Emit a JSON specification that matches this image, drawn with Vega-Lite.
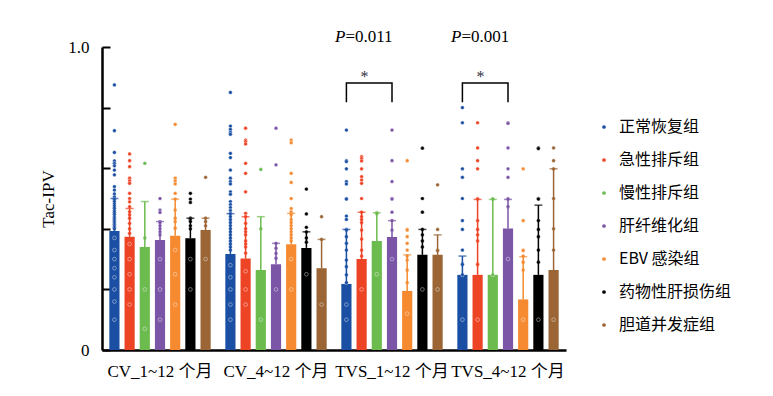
{
"$schema":"https://vega.github.io/schema/vega-lite/v6.json",
"width":464,"height":303,
"autosize":{"type":"none"},
"padding":{"left":102,"top":47,"right":207,"bottom":46},
"background":"white",
"config":{"view":{"stroke":null},"font":"Liberation Serif","axis":{"grid":false}},
"datasets":{
"bars":[
{"g":"CV_1~12 个月","c":"正常恢复组","mean":0.393,"up":0.50},
{"g":"CV_1~12 个月","c":"急性排斥组","mean":0.374,"up":0.467},
{"g":"CV_1~12 个月","c":"慢性排斥组","mean":0.340,"up":0.49},
{"g":"CV_1~12 个月","c":"肝纤维化组","mean":0.363,"up":0.424},
{"g":"CV_1~12 个月","c":"EBV 感染组","mean":0.377,"up":0.498},
{"g":"CV_1~12 个月","c":"药物性肝损伤组","mean":0.369,"up":0.435},
{"g":"CV_1~12 个月","c":"胆道并发症组","mean":0.396,"up":0.435},
{"g":"CV_4~12 个月","c":"正常恢复组","mean":0.317,"up":0.45},
{"g":"CV_4~12 个月","c":"急性排斥组","mean":0.302,"up":0.44},
{"g":"CV_4~12 个月","c":"慢性排斥组","mean":0.264,"up":0.44},
{"g":"CV_4~12 个月","c":"肝纤维化组","mean":0.283,"up":0.352},
{"g":"CV_4~12 个月","c":"EBV 感染组","mean":0.349,"up":0.451},
{"g":"CV_4~12 个月","c":"药物性肝损伤组","mean":0.337,"up":0.39},
{"g":"CV_4~12 个月","c":"胆道并发症组","mean":0.270,"up":0.365},
{"g":"TVS_1~12 个月","c":"正常恢复组","mean":0.218,"up":0.398},
{"g":"TVS_1~12 个月","c":"急性排斥组","mean":0.300,"up":0.455},
{"g":"TVS_1~12 个月","c":"慢性排斥组","mean":0.360,"up":0.453},
{"g":"TVS_1~12 个月","c":"肝纤维化组","mean":0.373,"up":0.427},
{"g":"TVS_1~12 个月","c":"EBV 感染组","mean":0.195,"up":0.314},
{"g":"TVS_1~12 个月","c":"药物性肝损伤组","mean":0.314,"up":0.398},
{"g":"TVS_1~12 个月","c":"胆道并发症组","mean":0.314,"up":0.38},
{"g":"TVS_4~12 个月","c":"正常恢复组","mean":0.248,"up":0.31},
{"g":"TVS_4~12 个月","c":"急性排斥组","mean":0.248,"up":0.497},
{"g":"TVS_4~12 个月","c":"慢性排斥组","mean":0.248,"up":0.497},
{"g":"TVS_4~12 个月","c":"肝纤维化组","mean":0.401,"up":0.497},
{"g":"TVS_4~12 个月","c":"EBV 感染组","mean":0.167,"up":0.308},
{"g":"TVS_4~12 个月","c":"药物性肝损伤组","mean":0.248,"up":0.478},
{"g":"TVS_4~12 个月","c":"胆道并发症组","mean":0.264,"up":0.598}
],
"pts":[
{"g":"CV_1~12 个月","c":"正常恢复组","v":0.875},{"g":"CV_1~12 个月","c":"正常恢复组","v":0.724},{"g":"CV_1~12 个月","c":"正常恢复组","v":0.652},{"g":"CV_1~12 个月","c":"正常恢复组","v":0.624},{"g":"CV_1~12 个月","c":"正常恢复组","v":0.616},{"g":"CV_1~12 个月","c":"正常恢复组","v":0.608},{"g":"CV_1~12 个月","c":"正常恢复组","v":0.594},{"g":"CV_1~12 个月","c":"正常恢复组","v":0.578},{"g":"CV_1~12 个月","c":"正常恢复组","v":0.539},{"g":"CV_1~12 个月","c":"正常恢复组","v":0.528},{"g":"CV_1~12 个月","c":"正常恢复组","v":0.515},{"g":"CV_1~12 个月","c":"正常恢复组","v":0.505},{"g":"CV_1~12 个月","c":"正常恢复组","v":0.497},{"g":"CV_1~12 个月","c":"正常恢复组","v":0.49},{"g":"CV_1~12 个月","c":"正常恢复组","v":0.482},{"g":"CV_1~12 个月","c":"正常恢复组","v":0.475},{"g":"CV_1~12 个月","c":"正常恢复组","v":0.468},{"g":"CV_1~12 个月","c":"正常恢复组","v":0.46},{"g":"CV_1~12 个月","c":"正常恢复组","v":0.455},{"g":"CV_1~12 个月","c":"正常恢复组","v":0.448},{"g":"CV_1~12 个月","c":"正常恢复组","v":0.44},{"g":"CV_1~12 个月","c":"正常恢复组","v":0.435},{"g":"CV_1~12 个月","c":"正常恢复组","v":0.43},{"g":"CV_1~12 个月","c":"正常恢复组","v":0.425},{"g":"CV_1~12 个月","c":"正常恢复组","v":0.42},{"g":"CV_1~12 个月","c":"正常恢复组","v":0.415},{"g":"CV_1~12 个月","c":"正常恢复组","v":0.41},{"g":"CV_1~12 个月","c":"正常恢复组","v":0.405},{"g":"CV_1~12 个月","c":"正常恢复组","v":0.40},{"g":"CV_1~12 个月","c":"正常恢复组","v":0.37},{"g":"CV_1~12 个月","c":"正常恢复组","v":0.33},{"g":"CV_1~12 个月","c":"正常恢复组","v":0.30},{"g":"CV_1~12 个月","c":"正常恢复组","v":0.27},{"g":"CV_1~12 个月","c":"正常恢复组","v":0.24},{"g":"CV_1~12 个月","c":"正常恢复组","v":0.20},{"g":"CV_1~12 个月","c":"正常恢复组","v":0.16},{"g":"CV_1~12 个月","c":"正常恢复组","v":0.10},
{"g":"CV_1~12 个月","c":"急性排斥组","v":0.647},{"g":"CV_1~12 个月","c":"急性排斥组","v":0.625},{"g":"CV_1~12 个月","c":"急性排斥组","v":0.605},{"g":"CV_1~12 个月","c":"急性排斥组","v":0.567},{"g":"CV_1~12 个月","c":"急性排斥组","v":0.558},{"g":"CV_1~12 个月","c":"急性排斥组","v":0.55},{"g":"CV_1~12 个月","c":"急性排斥组","v":0.517},{"g":"CV_1~12 个月","c":"急性排斥组","v":0.50},{"g":"CV_1~12 个月","c":"急性排斥组","v":0.489},{"g":"CV_1~12 个月","c":"急性排斥组","v":0.473},{"g":"CV_1~12 个月","c":"急性排斥组","v":0.456},{"g":"CV_1~12 个月","c":"急性排斥组","v":0.446},{"g":"CV_1~12 个月","c":"急性排斥组","v":0.435},{"g":"CV_1~12 个月","c":"急性排斥组","v":0.418},{"g":"CV_1~12 个月","c":"急性排斥组","v":0.40},{"g":"CV_1~12 个月","c":"急性排斥组","v":0.385},{"g":"CV_1~12 个月","c":"急性排斥组","v":0.35},{"g":"CV_1~12 个月","c":"急性排斥组","v":0.30},{"g":"CV_1~12 个月","c":"急性排斥组","v":0.25},{"g":"CV_1~12 个月","c":"急性排斥组","v":0.20},{"g":"CV_1~12 个月","c":"急性排斥组","v":0.15},
{"g":"CV_1~12 个月","c":"慢性排斥组","v":0.616},{"g":"CV_1~12 个月","c":"慢性排斥组","v":0.37},{"g":"CV_1~12 个月","c":"慢性排斥组","v":0.20},{"g":"CV_1~12 个月","c":"慢性排斥组","v":0.07},
{"g":"CV_1~12 个月","c":"肝纤维化组","v":0.50},{"g":"CV_1~12 个月","c":"肝纤维化组","v":0.462},{"g":"CV_1~12 个月","c":"肝纤维化组","v":0.454},{"g":"CV_1~12 个月","c":"肝纤维化组","v":0.424},{"g":"CV_1~12 个月","c":"肝纤维化组","v":0.42},{"g":"CV_1~12 个月","c":"肝纤维化组","v":0.41},{"g":"CV_1~12 个月","c":"肝纤维化组","v":0.40},{"g":"CV_1~12 个月","c":"肝纤维化组","v":0.39},{"g":"CV_1~12 个月","c":"肝纤维化组","v":0.38},{"g":"CV_1~12 个月","c":"肝纤维化组","v":0.30},{"g":"CV_1~12 个月","c":"肝纤维化组","v":0.20},{"g":"CV_1~12 个月","c":"肝纤维化组","v":0.10},
{"g":"CV_1~12 个月","c":"EBV 感染组","v":0.745},{"g":"CV_1~12 个月","c":"EBV 感染组","v":0.567},{"g":"CV_1~12 个月","c":"EBV 感染组","v":0.558},{"g":"CV_1~12 个月","c":"EBV 感染组","v":0.548},{"g":"CV_1~12 个月","c":"EBV 感染组","v":0.517},{"g":"CV_1~12 个月","c":"EBV 感染组","v":0.498},{"g":"CV_1~12 个月","c":"EBV 感染组","v":0.462},{"g":"CV_1~12 个月","c":"EBV 感染组","v":0.435},{"g":"CV_1~12 个月","c":"EBV 感染组","v":0.424},{"g":"CV_1~12 个月","c":"EBV 感染组","v":0.402},{"g":"CV_1~12 个月","c":"EBV 感染组","v":0.33},{"g":"CV_1~12 个月","c":"EBV 感染组","v":0.25},{"g":"CV_1~12 个月","c":"EBV 感染组","v":0.15},
{"g":"CV_1~12 个月","c":"药物性肝损伤组","v":0.517},{"g":"CV_1~12 个月","c":"药物性肝损伤组","v":0.498},{"g":"CV_1~12 个月","c":"药物性肝损伤组","v":0.487},{"g":"CV_1~12 个月","c":"药物性肝损伤组","v":0.435},{"g":"CV_1~12 个月","c":"药物性肝损伤组","v":0.43},{"g":"CV_1~12 个月","c":"药物性肝损伤组","v":0.424},{"g":"CV_1~12 个月","c":"药物性肝损伤组","v":0.41},{"g":"CV_1~12 个月","c":"药物性肝损伤组","v":0.40},{"g":"CV_1~12 个月","c":"药物性肝损伤组","v":0.30},{"g":"CV_1~12 个月","c":"药物性肝损伤组","v":0.20},
{"g":"CV_1~12 个月","c":"胆道并发症组","v":0.57},{"g":"CV_1~12 个月","c":"胆道并发症组","v":0.435},{"g":"CV_1~12 个月","c":"胆道并发症组","v":0.424},{"g":"CV_1~12 个月","c":"胆道并发症组","v":0.41},{"g":"CV_1~12 个月","c":"胆道并发症组","v":0.30},
{"g":"CV_4~12 个月","c":"正常恢复组","v":0.85},{"g":"CV_4~12 个月","c":"正常恢复组","v":0.739},{"g":"CV_4~12 个月","c":"正常恢复组","v":0.728},{"g":"CV_4~12 个月","c":"正常恢复组","v":0.718},{"g":"CV_4~12 个月","c":"正常恢复组","v":0.712},{"g":"CV_4~12 个月","c":"正常恢复组","v":0.649},{"g":"CV_4~12 个月","c":"正常恢复组","v":0.635},{"g":"CV_4~12 个月","c":"正常恢复组","v":0.594},{"g":"CV_4~12 个月","c":"正常恢复组","v":0.567},{"g":"CV_4~12 个月","c":"正常恢复组","v":0.556},{"g":"CV_4~12 个月","c":"正常恢复组","v":0.548},{"g":"CV_4~12 个月","c":"正常恢复组","v":0.522},{"g":"CV_4~12 个月","c":"正常恢复组","v":0.514},{"g":"CV_4~12 个月","c":"正常恢复组","v":0.49},{"g":"CV_4~12 个月","c":"正常恢复组","v":0.48},{"g":"CV_4~12 个月","c":"正常恢复组","v":0.47},{"g":"CV_4~12 个月","c":"正常恢复组","v":0.46},{"g":"CV_4~12 个月","c":"正常恢复组","v":0.45},{"g":"CV_4~12 个月","c":"正常恢复组","v":0.44},{"g":"CV_4~12 个月","c":"正常恢复组","v":0.43},{"g":"CV_4~12 个月","c":"正常恢复组","v":0.42},{"g":"CV_4~12 个月","c":"正常恢复组","v":0.41},{"g":"CV_4~12 个月","c":"正常恢复组","v":0.40},{"g":"CV_4~12 个月","c":"正常恢复组","v":0.39},{"g":"CV_4~12 个月","c":"正常恢复组","v":0.38},{"g":"CV_4~12 个月","c":"正常恢复组","v":0.37},{"g":"CV_4~12 个月","c":"正常恢复组","v":0.36},{"g":"CV_4~12 个月","c":"正常恢复组","v":0.35},{"g":"CV_4~12 个月","c":"正常恢复组","v":0.34},{"g":"CV_4~12 个月","c":"正常恢复组","v":0.33},{"g":"CV_4~12 个月","c":"正常恢复组","v":0.28},{"g":"CV_4~12 个月","c":"正常恢复组","v":0.24},{"g":"CV_4~12 个月","c":"正常恢复组","v":0.20},{"g":"CV_4~12 个月","c":"正常恢复组","v":0.15},{"g":"CV_4~12 个月","c":"正常恢复组","v":0.10},
{"g":"CV_4~12 个月","c":"急性排斥组","v":0.732},{"g":"CV_4~12 个月","c":"急性排斥组","v":0.693},{"g":"CV_4~12 个月","c":"急性排斥组","v":0.688},{"g":"CV_4~12 个月","c":"急性排斥组","v":0.68},{"g":"CV_4~12 个月","c":"急性排斥组","v":0.616},{"g":"CV_4~12 个月","c":"急性排斥组","v":0.583},{"g":"CV_4~12 个月","c":"急性排斥组","v":0.522},{"g":"CV_4~12 个月","c":"急性排斥组","v":0.451},{"g":"CV_4~12 个月","c":"急性排斥组","v":0.44},{"g":"CV_4~12 个月","c":"急性排斥组","v":0.418},{"g":"CV_4~12 个月","c":"急性排斥组","v":0.40},{"g":"CV_4~12 个月","c":"急性排斥组","v":0.39},{"g":"CV_4~12 个月","c":"急性排斥组","v":0.38},{"g":"CV_4~12 个月","c":"急性排斥组","v":0.36},{"g":"CV_4~12 个月","c":"急性排斥组","v":0.35},{"g":"CV_4~12 个月","c":"急性排斥组","v":0.34},{"g":"CV_4~12 个月","c":"急性排斥组","v":0.32},{"g":"CV_4~12 个月","c":"急性排斥组","v":0.26},{"g":"CV_4~12 个月","c":"急性排斥组","v":0.20},{"g":"CV_4~12 个月","c":"急性排斥组","v":0.15},
{"g":"CV_4~12 个月","c":"慢性排斥组","v":0.596},{"g":"CV_4~12 个月","c":"慢性排斥组","v":0.40},{"g":"CV_4~12 个月","c":"慢性排斥组","v":0.10},
{"g":"CV_4~12 个月","c":"肝纤维化组","v":0.732},{"g":"CV_4~12 个月","c":"肝纤维化组","v":0.611},{"g":"CV_4~12 个月","c":"肝纤维化组","v":0.352},{"g":"CV_4~12 个月","c":"肝纤维化组","v":0.336},{"g":"CV_4~12 个月","c":"肝纤维化组","v":0.319},{"g":"CV_4~12 个月","c":"肝纤维化组","v":0.303},{"g":"CV_4~12 个月","c":"肝纤维化组","v":0.20},
{"g":"CV_4~12 个月","c":"EBV 感染组","v":0.693},{"g":"CV_4~12 个月","c":"EBV 感染组","v":0.684},{"g":"CV_4~12 个月","c":"EBV 感染组","v":0.583},{"g":"CV_4~12 个月","c":"EBV 感染组","v":0.553},{"g":"CV_4~12 个月","c":"EBV 感染组","v":0.50},{"g":"CV_4~12 个月","c":"EBV 感染组","v":0.467},{"g":"CV_4~12 个月","c":"EBV 感染组","v":0.456},{"g":"CV_4~12 个月","c":"EBV 感染组","v":0.446},{"g":"CV_4~12 个月","c":"EBV 感染组","v":0.43},{"g":"CV_4~12 个月","c":"EBV 感染组","v":0.42},{"g":"CV_4~12 个月","c":"EBV 感染组","v":0.41},{"g":"CV_4~12 个月","c":"EBV 感染组","v":0.40},{"g":"CV_4~12 个月","c":"EBV 感染组","v":0.39},{"g":"CV_4~12 个月","c":"EBV 感染组","v":0.38},{"g":"CV_4~12 个月","c":"EBV 感染组","v":0.37},{"g":"CV_4~12 个月","c":"EBV 感染组","v":0.36},{"g":"CV_4~12 个月","c":"EBV 感染组","v":0.30},{"g":"CV_4~12 个月","c":"EBV 感染组","v":0.20},
{"g":"CV_4~12 个月","c":"药物性肝损伤组","v":0.531},{"g":"CV_4~12 个月","c":"药物性肝损伤组","v":0.449},{"g":"CV_4~12 个月","c":"药物性肝损伤组","v":0.405},{"g":"CV_4~12 个月","c":"药物性肝损伤组","v":0.39},{"g":"CV_4~12 个月","c":"药物性肝损伤组","v":0.37},{"g":"CV_4~12 个月","c":"药物性肝损伤组","v":0.356},{"g":"CV_4~12 个月","c":"药物性肝损伤组","v":0.25},
{"g":"CV_4~12 个月","c":"胆道并发症组","v":0.44},{"g":"CV_4~12 个月","c":"胆道并发症组","v":0.365},{"g":"CV_4~12 个月","c":"胆道并发症组","v":0.15},
{"g":"TVS_1~12 个月","c":"正常恢复组","v":0.726},{"g":"TVS_1~12 个月","c":"正常恢复组","v":0.625},{"g":"TVS_1~12 个月","c":"正常恢复组","v":0.622},{"g":"TVS_1~12 个月","c":"正常恢复组","v":0.598},{"g":"TVS_1~12 个月","c":"正常恢复组","v":0.556},{"g":"TVS_1~12 个月","c":"正常恢复组","v":0.548},{"g":"TVS_1~12 个月","c":"正常恢复组","v":0.50},{"g":"TVS_1~12 个月","c":"正常恢复组","v":0.498},{"g":"TVS_1~12 个月","c":"正常恢复组","v":0.442},{"g":"TVS_1~12 个月","c":"正常恢复组","v":0.431},{"g":"TVS_1~12 个月","c":"正常恢复组","v":0.398},{"g":"TVS_1~12 个月","c":"正常恢复组","v":0.396},{"g":"TVS_1~12 个月","c":"正常恢复组","v":0.374},{"g":"TVS_1~12 个月","c":"正常恢复组","v":0.352},{"g":"TVS_1~12 个月","c":"正常恢复组","v":0.33},{"g":"TVS_1~12 个月","c":"正常恢复组","v":0.297},{"g":"TVS_1~12 个月","c":"正常恢复组","v":0.275},{"g":"TVS_1~12 个月","c":"正常恢复组","v":0.248},{"g":"TVS_1~12 个月","c":"正常恢复组","v":0.222},{"g":"TVS_1~12 个月","c":"正常恢复组","v":0.15},{"g":"TVS_1~12 个月","c":"正常恢复组","v":0.10},
{"g":"TVS_1~12 个月","c":"急性排斥组","v":0.638},{"g":"TVS_1~12 个月","c":"急性排斥组","v":0.632},{"g":"TVS_1~12 个月","c":"急性排斥组","v":0.624},{"g":"TVS_1~12 个月","c":"急性排斥组","v":0.598},{"g":"TVS_1~12 个月","c":"急性排斥组","v":0.572},{"g":"TVS_1~12 个月","c":"急性排斥组","v":0.561},{"g":"TVS_1~12 个月","c":"急性排斥组","v":0.55},{"g":"TVS_1~12 个月","c":"急性排斥组","v":0.50},{"g":"TVS_1~12 个月","c":"急性排斥组","v":0.455},{"g":"TVS_1~12 个月","c":"急性排斥组","v":0.44},{"g":"TVS_1~12 个月","c":"急性排斥组","v":0.43},{"g":"TVS_1~12 个月","c":"急性排斥组","v":0.42},{"g":"TVS_1~12 个月","c":"急性排斥组","v":0.396},{"g":"TVS_1~12 个月","c":"急性排斥组","v":0.366},{"g":"TVS_1~12 个月","c":"急性排斥组","v":0.33},{"g":"TVS_1~12 个月","c":"急性排斥组","v":0.31},{"g":"TVS_1~12 个月","c":"急性排斥组","v":0.20},
{"g":"TVS_1~12 个月","c":"慢性排斥组","v":0.453},{"g":"TVS_1~12 个月","c":"慢性排斥组","v":0.45},{"g":"TVS_1~12 个月","c":"慢性排斥组","v":0.25},
{"g":"TVS_1~12 个月","c":"肝纤维化组","v":0.726},{"g":"TVS_1~12 个月","c":"肝纤维化组","v":0.625},{"g":"TVS_1~12 个月","c":"肝纤维化组","v":0.556},{"g":"TVS_1~12 个月","c":"肝纤维化组","v":0.50},{"g":"TVS_1~12 个月","c":"肝纤维化组","v":0.498},{"g":"TVS_1~12 个月","c":"肝纤维化组","v":0.455},{"g":"TVS_1~12 个月","c":"肝纤维化组","v":0.427},{"g":"TVS_1~12 个月","c":"肝纤维化组","v":0.396},{"g":"TVS_1~12 个月","c":"肝纤维化组","v":0.30},
{"g":"TVS_1~12 个月","c":"EBV 感染组","v":0.625},{"g":"TVS_1~12 个月","c":"EBV 感染组","v":0.398},{"g":"TVS_1~12 个月","c":"EBV 感染组","v":0.396},{"g":"TVS_1~12 个月","c":"EBV 感染组","v":0.374},{"g":"TVS_1~12 个月","c":"EBV 感染组","v":0.352},{"g":"TVS_1~12 个月","c":"EBV 感染组","v":0.33},{"g":"TVS_1~12 个月","c":"EBV 感染组","v":0.31},{"g":"TVS_1~12 个月","c":"EBV 感染组","v":0.297},{"g":"TVS_1~12 个月","c":"EBV 感染组","v":0.264},{"g":"TVS_1~12 个月","c":"EBV 感染组","v":0.222},{"g":"TVS_1~12 个月","c":"EBV 感染组","v":0.12},
{"g":"TVS_1~12 个月","c":"药物性肝损伤组","v":0.666},{"g":"TVS_1~12 个月","c":"药物性肝损伤组","v":0.50},{"g":"TVS_1~12 个月","c":"药物性肝损伤组","v":0.455},{"g":"TVS_1~12 个月","c":"药物性肝损伤组","v":0.398},{"g":"TVS_1~12 个月","c":"药物性肝损伤组","v":0.38},{"g":"TVS_1~12 个月","c":"药物性肝损伤组","v":0.36},{"g":"TVS_1~12 个月","c":"药物性肝损伤组","v":0.34},{"g":"TVS_1~12 个月","c":"药物性肝损伤组","v":0.20},
{"g":"TVS_1~12 个月","c":"胆道并发症组","v":0.545},{"g":"TVS_1~12 个月","c":"胆道并发症组","v":0.398},{"g":"TVS_1~12 个月","c":"胆道并发症组","v":0.33},{"g":"TVS_1~12 个月","c":"胆道并发症组","v":0.328},{"g":"TVS_1~12 个月","c":"胆道并发症组","v":0.20},
{"g":"TVS_4~12 个月","c":"正常恢复组","v":0.80},{"g":"TVS_4~12 个月","c":"正常恢复组","v":0.75},{"g":"TVS_4~12 个月","c":"正常恢复组","v":0.598},{"g":"TVS_4~12 个月","c":"正常恢复组","v":0.57},{"g":"TVS_4~12 个月","c":"正常恢复组","v":0.50},{"g":"TVS_4~12 个月","c":"正常恢复组","v":0.427},{"g":"TVS_4~12 个月","c":"正常恢复组","v":0.398},{"g":"TVS_4~12 个月","c":"正常恢复组","v":0.33},{"g":"TVS_4~12 个月","c":"正常恢复组","v":0.284},{"g":"TVS_4~12 个月","c":"正常恢复组","v":0.282},{"g":"TVS_4~12 个月","c":"正常恢复组","v":0.248},{"g":"TVS_4~12 个月","c":"正常恢复组","v":0.10},
{"g":"TVS_4~12 个月","c":"急性排斥组","v":0.75},{"g":"TVS_4~12 个月","c":"急性排斥组","v":0.667},{"g":"TVS_4~12 个月","c":"急性排斥组","v":0.625},{"g":"TVS_4~12 个月","c":"急性排斥组","v":0.598},{"g":"TVS_4~12 个月","c":"急性排斥组","v":0.50},{"g":"TVS_4~12 个月","c":"急性排斥组","v":0.498},{"g":"TVS_4~12 个月","c":"急性排斥组","v":0.427},{"g":"TVS_4~12 个月","c":"急性排斥组","v":0.398},{"g":"TVS_4~12 个月","c":"急性排斥组","v":0.38},{"g":"TVS_4~12 个月","c":"急性排斥组","v":0.36},{"g":"TVS_4~12 个月","c":"急性排斥组","v":0.284},{"g":"TVS_4~12 个月","c":"急性排斥组","v":0.282},{"g":"TVS_4~12 个月","c":"急性排斥组","v":0.10},
{"g":"TVS_4~12 个月","c":"慢性排斥组","v":0.50},{"g":"TVS_4~12 个月","c":"慢性排斥组","v":0.498},{"g":"TVS_4~12 个月","c":"慢性排斥组","v":0.248},
{"g":"TVS_4~12 个月","c":"肝纤维化组","v":0.75},{"g":"TVS_4~12 个月","c":"肝纤维化组","v":0.748},{"g":"TVS_4~12 个月","c":"肝纤维化组","v":0.667},{"g":"TVS_4~12 个月","c":"肝纤维化组","v":0.598},{"g":"TVS_4~12 个月","c":"肝纤维化组","v":0.57},{"g":"TVS_4~12 个月","c":"肝纤维化组","v":0.50},{"g":"TVS_4~12 个月","c":"肝纤维化组","v":0.498},{"g":"TVS_4~12 个月","c":"肝纤维化组","v":0.473},{"g":"TVS_4~12 个月","c":"肝纤维化组","v":0.30},
{"g":"TVS_4~12 个月","c":"EBV 感染组","v":0.598},{"g":"TVS_4~12 个月","c":"EBV 感染组","v":0.427},{"g":"TVS_4~12 个月","c":"EBV 感染组","v":0.33},{"g":"TVS_4~12 个月","c":"EBV 感染组","v":0.328},{"g":"TVS_4~12 个月","c":"EBV 感染组","v":0.31},{"g":"TVS_4~12 个月","c":"EBV 感染组","v":0.29},{"g":"TVS_4~12 个月","c":"EBV 感染组","v":0.264},{"g":"TVS_4~12 个月","c":"EBV 感染组","v":0.10},
{"g":"TVS_4~12 个月","c":"药物性肝损伤组","v":0.667},{"g":"TVS_4~12 个月","c":"药物性肝损伤组","v":0.665},{"g":"TVS_4~12 个月","c":"药物性肝损伤组","v":0.50},{"g":"TVS_4~12 个月","c":"药物性肝损伤组","v":0.498},{"g":"TVS_4~12 个月","c":"药物性肝损伤组","v":0.427},{"g":"TVS_4~12 个月","c":"药物性肝损伤组","v":0.398},{"g":"TVS_4~12 个月","c":"药物性肝损伤组","v":0.374},{"g":"TVS_4~12 个月","c":"药物性肝损伤组","v":0.33},{"g":"TVS_4~12 个月","c":"药物性肝损伤组","v":0.29},{"g":"TVS_4~12 个月","c":"药物性肝损伤组","v":0.10},
{"g":"TVS_4~12 个月","c":"胆道并发症组","v":0.667},{"g":"TVS_4~12 个月","c":"胆道并发症组","v":0.625},{"g":"TVS_4~12 个月","c":"胆道并发症组","v":0.598},{"g":"TVS_4~12 个月","c":"胆道并发症组","v":0.50},{"g":"TVS_4~12 个月","c":"胆道并发症组","v":0.40},{"g":"TVS_4~12 个月","c":"胆道并发症组","v":0.33},{"g":"TVS_4~12 个月","c":"胆道并发症组","v":0.10}
],
"brk":[
{"g":"TVS_1~12 个月","c":"正常恢复组","y":0.818,"o":1},
{"g":"TVS_1~12 个月","c":"正常恢复组","y":0.881,"o":2},
{"g":"TVS_1~12 个月","c":"肝纤维化组","y":0.881,"o":3},
{"g":"TVS_1~12 个月","c":"肝纤维化组","y":0.818,"o":4},
{"g":"TVS_4~12 个月","c":"正常恢复组","y":0.818,"o":1},
{"g":"TVS_4~12 个月","c":"正常恢复组","y":0.881,"o":2},
{"g":"TVS_4~12 个月","c":"肝纤维化组","y":0.881,"o":3},
{"g":"TVS_4~12 个月","c":"肝纤维化组","y":0.818,"o":4}
],
"ann":[
{"g":"TVS_1~12 个月","c":"正常恢复组","p":"P","val":"=0.011"},
{"g":"TVS_4~12 个月","c":"正常恢复组","p":"P","val":"=0.001"}
],
"star":[
{"g":"TVS_1~12 个月","c":"急性排斥组","s":"*"},
{"g":"TVS_4~12 个月","c":"急性排斥组","s":"*"}
]
},
"encoding":{
"x":{"field":"g","type":"nominal","sort":["CV_1~12 个月","CV_4~12 个月","TVS_1~12 个月","TVS_4~12 个月"],
 "scale":{"domain":["CV_1~12 个月","CV_4~12 个月","TVS_1~12 个月","TVS_4~12 个月"],"paddingInner":0.1,"paddingOuter":0.05},
 "axis":{"title":null,"labelAngle":0,"labelFontSize":17,"labelFont":"Liberation Serif, Noto Sans CJK SC","labelColor":"black","domainColor":"black","domainWidth":2.5,"tickColor":"black","tickSize":-5,"tickWidth":1.5,"labelPadding":18,"labelBaseline":"top"}},
"xOffset":{"field":"c","type":"nominal","sort":["正常恢复组","急性排斥组","慢性排斥组","肝纤维化组","EBV 感染组","药物性肝损伤组","胆道并发症组"],
 "scale":{"domain":["正常恢复组","急性排斥组","慢性排斥组","肝纤维化组","EBV 感染组","药物性肝损伤组","胆道并发症组"],"paddingInner":0.33,"paddingOuter":0.1}}
},
"layer":[
{"data":{"name":"bars"},"mark":{"type":"bar"},
 "encoding":{
  "y":{"field":"mean","type":"quantitative","scale":{"domain":[0,1],"nice":false},
   "axis":{"title":"Tac-IPV","titleFont":"Liberation Serif","titleFontSize":17,"titleFontWeight":"normal","titleColor":"black","titlePadding":10,
    "values":[0,0.05,0.1,0.15,0.2,0.25,0.3,0.35,0.4,0.45,0.5,0.55,0.6,0.65,0.7,0.75,0.8,0.85,0.9,0.95,1],
    "labelExpr":"datum.value == 0 ? '0' : (datum.value == 0.5 ? '0.5' : (datum.value == 1 ? '1.0' : ''))",
    "labelOverlap":false,"labelFontSize":17,"labelColor":"black","labelPadding":21,
    "tickSize":{"condition":{"test":"round(datum.value*100) % 10 == 0","value":-8},"value":-6},
    "tickWidth":{"condition":{"test":"round(datum.value*100) % 10 == 0","value":2},"value":1.2},
    "tickColor":"black","domainColor":"black","domainWidth":2.5}},
  "color":{"field":"c","type":"nominal","sort":["正常恢复组","急性排斥组","慢性排斥组","肝纤维化组","EBV 感染组","药物性肝损伤组","胆道并发症组"],
   "scale":{"domain":["正常恢复组","急性排斥组","慢性排斥组","肝纤维化组","EBV 感染组","药物性肝损伤组","胆道并发症组"],"range":["#1a4fa3","#ee4426","#6cbb4f","#7b55a6","#f58a30","#000000","#9b6535"]},
   "legend":{"title":null,"orient":"none","legendX":494,"legendY":72,"symbolType":"circle","symbolSize":14,"symbolStrokeWidth":0,"labelFontSize":16,"labelFont":"Noto Sans CJK SC","labelColor":"black","rowPadding":17,"labelOffset":7}}
 }},
{"data":{"name":"pts"},"mark":{"type":"point","filled":true,"size":14,"stroke":"white","strokeWidth":0.4,"opacity":1},
 "encoding":{
  "y":{"field":"v","type":"quantitative","title":"Tac-IPV"},
  "color":{"field":"c","type":"nominal"}
 }},
{"data":{"name":"bars"},"mark":{"type":"rule","strokeWidth":1.5},
 "encoding":{
  "y":{"field":"mean","type":"quantitative","title":"Tac-IPV"},
  "y2":{"field":"up"},
  "color":{"field":"c","type":"nominal"}
 }},
{"data":{"name":"bars"},"mark":{"type":"tick","thickness":1.5,"size":8},
 "encoding":{
  "y":{"field":"up","type":"quantitative","title":"Tac-IPV"},
  "color":{"field":"c","type":"nominal"}
 }},
{"data":{"name":"brk"},"mark":{"type":"line","color":"black","strokeWidth":1.5},
 "encoding":{
  "y":{"field":"y","type":"quantitative","title":"Tac-IPV"},
  "detail":{"field":"g"},
  "order":{"field":"o","type":"quantitative"}
 }},
{"data":{"name":"ann"},"mark":{"type":"text","align":"right","baseline":"alphabetic","fontSize":17,"fontStyle":"italic","font":"Liberation Serif","color":"black","dx":-1},
 "encoding":{"y":{"datum":1.017},"text":{"field":"p"}}},
{"data":{"name":"ann"},"mark":{"type":"text","align":"left","baseline":"alphabetic","fontSize":17,"font":"Liberation Serif","color":"black","dx":-1},
 "encoding":{"y":{"datum":1.017},"text":{"field":"val"}}},
{"data":{"name":"star"},"mark":{"type":"text","align":"center","baseline":"alphabetic","fontSize":16,"font":"Liberation Serif","color":"#333344","dx":3},
 "encoding":{"y":{"datum":0.884},"text":{"field":"s"}}}
]
}
